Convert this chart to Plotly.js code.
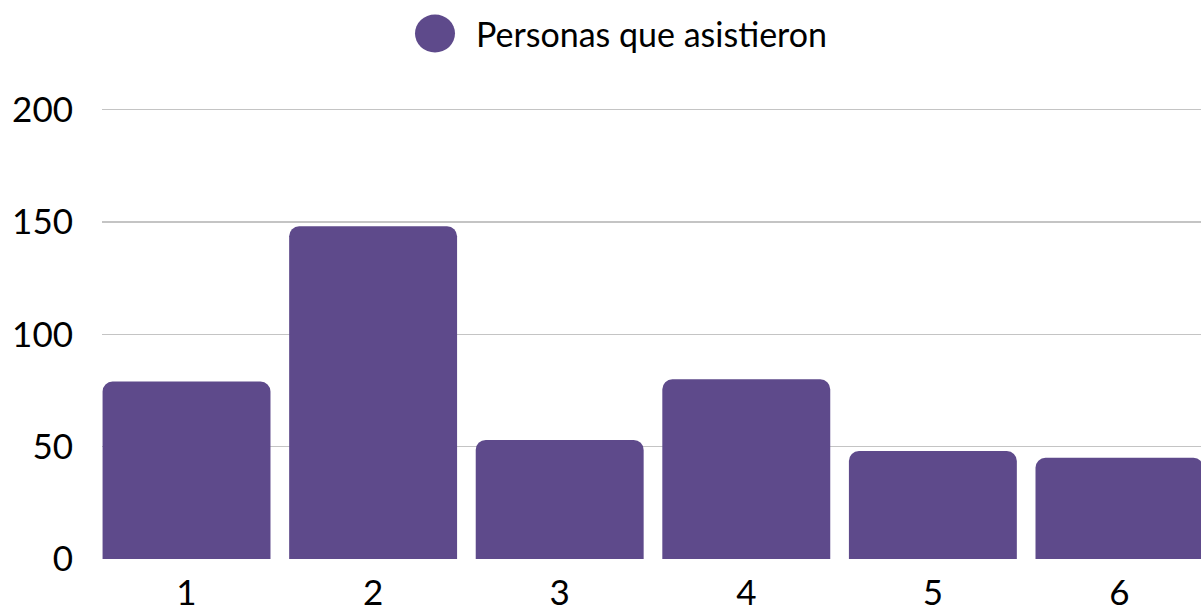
<!DOCTYPE html>
<html>
<head>
<meta charset="utf-8">
<script src="https://cdn.plot.ly/plotly-3.0.1.min.js"></script>
<style>html,body{margin:0;padding:0;background:#fff;}#chart{width:1201px;height:612px;}</style>
</head>
<body>
<div id="chart"></div>
<script>
const categories = [1, 2, 3, 4, 5, 6];
const values = [79, 148, 53, 80, 48, 45];
const seriesName = 'Personas que asistieron';
const yTicks = [0, 50, 100, 150, 200];

const color = '#5E4A8B';
const font = 'Lato, "Open Sans", sans-serif';

const trace = {
  type: 'bar',
  x: categories,
  y: values,
  name: seriesName,
  width: 0.9,
  marker: { color: color, cornerradius: 10 },
  showlegend: false,
  hoverinfo: 'x+y'
};

const layout = {
  width: 1201,
  height: 612,
  margin: { l: 102, r: 0, t: 105, b: 53 },
  paper_bgcolor: '#ffffff',
  plot_bgcolor: '#ffffff',
  font: { family: font, color: '#000000', size: 35 },
  showlegend: false,
  xaxis: {
    type: 'linear',
    range: [0.547, 6.437],
    tickvals: categories,
    ticktext: categories.map(String),
    showgrid: false,
    zeroline: false,
    showline: false,
    ticks: '',
    ticklabelstandoff: 10,
    tickfont: { family: font, size: 35, color: '#000' }
  },
  yaxis: {
    range: [0, 202],
    tickvals: yTicks,
    showgrid: true,
    gridcolor: '#c4c4c4',
    gridwidth: 1.5,
    zeroline: false,
    showline: false,
    ticks: '',
    ticklabelstandoff: 28,
    tickfont: { family: font, size: 35, color: '#000' }
  },
  shapes: [{
    type: 'circle', xref: 'paper', yref: 'paper',
    xsizemode: 'pixel', ysizemode: 'pixel',
    xanchor: 0.303, yanchor: 1.1576,
    x0: -20, x1: 20, y0: -19, y1: 19,
    fillcolor: color, line: { width: 0 }
  }],
  annotations: [{
    xref: 'paper', yref: 'paper',
    x: 0.3385, y: 1.1576,
    xanchor: 'left', yanchor: 'middle',
    text: seriesName,
    showarrow: false,
    font: { family: font, size: 34, color: '#000' }
  }]
};

Plotly.newPlot('chart', [trace], layout, { displayModeBar: false, staticPlot: true });
</script>
</body>
</html>
